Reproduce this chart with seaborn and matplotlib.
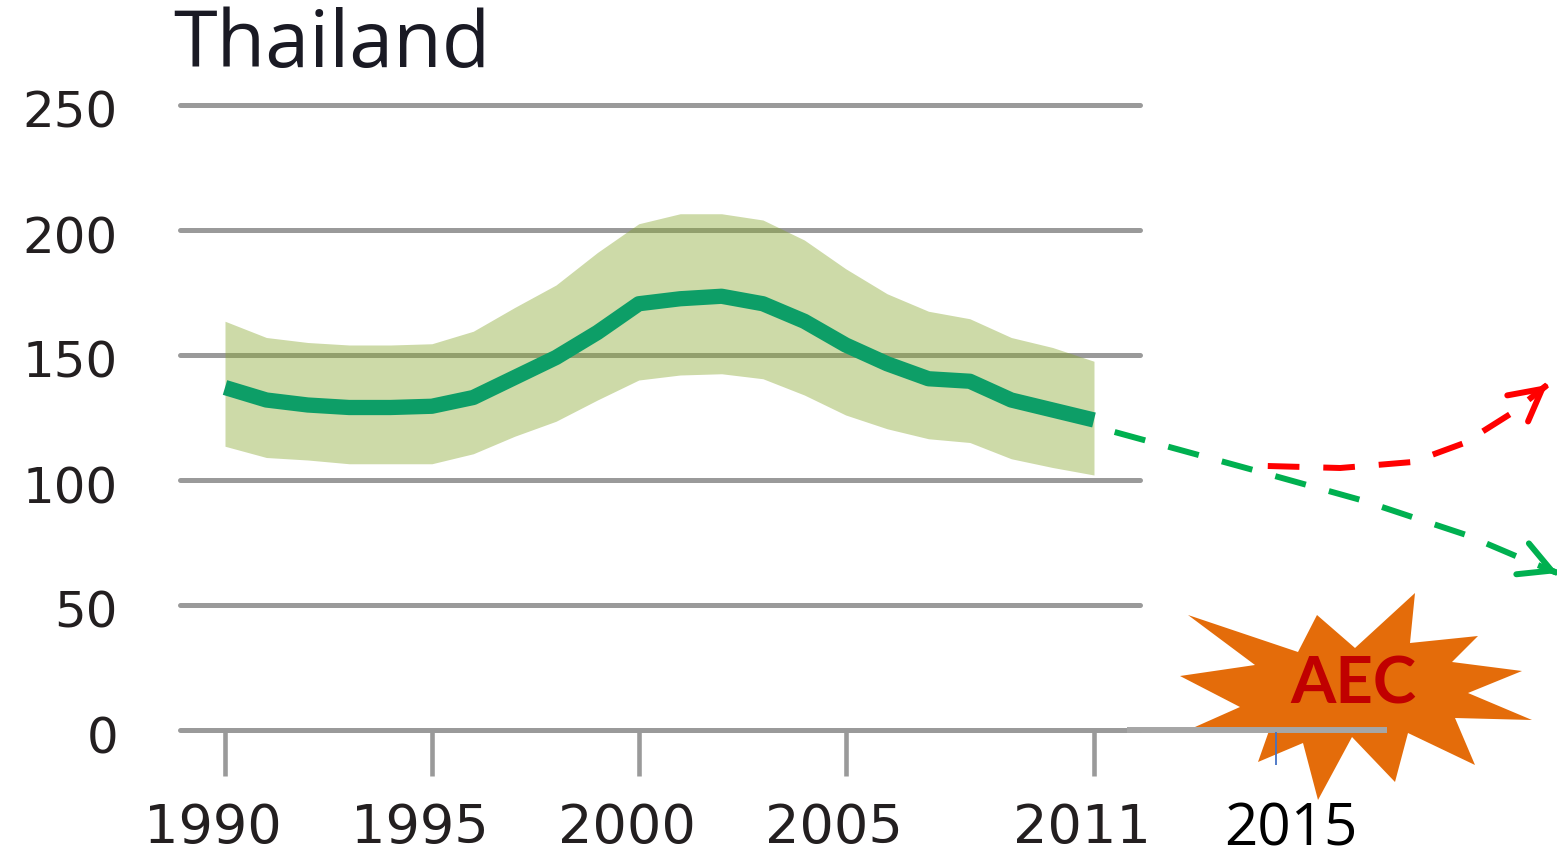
import matplotlib
matplotlib.use("Agg")
import matplotlib.pyplot as plt
import matplotlib.transforms as mtransforms
from matplotlib.patches import Polygon
import seaborn as sns

# data
years = list(range(1990, 2012))
central = [137, 132, 130, 129, 129, 129.5, 133, 141, 149, 159, 170.5,
           172.5, 173.5, 170.5, 163.5, 154, 146.5, 140.5, 139.5, 132, 128, 124]
upper = [163.5, 157, 155, 154, 154, 154.5, 159.5, 169, 178, 191, 202.5,
         206.5, 206.5, 204, 196, 184.5, 174.5, 167.5, 164.5, 157, 153, 147.5]
lower = [113.5, 109, 108, 106.5, 106.5, 106.5, 110.5, 117.5, 123.5, 132, 140,
         142, 142.5, 140.5, 134, 126, 120.5, 116.5, 115, 108.5, 105, 102]

# projections after 2011 (dashed arrows)
down_years = [2011.5, 2014.85, 2017.45, 2020.0, 2021.25, 2022.2]
down_vals = [119.2, 104.0, 92.0, 78.0, 69.2, 62.8]
up_years = [2015.2, 2016.95, 2018.7, 2019.95, 2021.1, 2021.95]
up_vals = [105.6, 104.8, 107.2, 114.8, 126.8, 138.0]

y_ticks = [0, 50, 100, 150, 200, 250]
x_ticks = [1990, 1995, 2000, 2005, 2011]
x_labels = ["1990", "1995", "2000", "2005", "2011"]
aec_year = 2015.4

sns.set_style("white")
plt.rcParams["font.family"] = ["Open Sans", "DejaVu Sans"]

W, H = 1557, 856
fig = plt.figure(figsize=(W / 100, H / 100), dpi=100)
ax = fig.add_axes([150 / W, 126 / H, 1407 / W, 640 / H])
px_per_year = 41.38
ax.set_xlim(1990 - 75 / px_per_year, 1990 + 1332 / px_per_year)
ax.set_ylim(0, 256)
for s in ax.spines.values():
    s.set_visible(False)

grid_col = "#9a9a9a"
gl = ax.hlines(y_ticks, 1990 - 45 / px_per_year, 1990 + 915 / px_per_year,
               color=grid_col, lw=3.6, zorder=1, clip_on=False)
gl.set_capstyle("round")

ax.fill_between(years, lower, upper, color="#88A730", alpha=0.42, lw=0, zorder=2)
sns.lineplot(x=years, y=central, color="#0D9E67", lw=11, ax=ax, zorder=3,
             solid_capstyle="butt")

# dashed projections
dash = (0, (5.3, 4))
for xs, ys, col in [(down_years, down_vals, "#00B050"), (up_years, up_vals, "#FF0000")]:
    ax.plot(xs, ys, color=col, lw=4.3, linestyle=dash, dash_capstyle="butt",
            zorder=4, clip_on=False)
    bx = xs[-1] + 0.05 * (xs[-2] - xs[-1])
    by = ys[-1] + 0.05 * (ys[-2] - ys[-1])
    ax.annotate("", xy=(xs[-1], ys[-1]), xytext=(bx, by), annotation_clip=False,
                arrowprops=dict(arrowstyle="->,head_length=0.75,head_width=0.4",
                                color=col, lw=4.3, shrinkA=0, shrinkB=0,
                                mutation_scale=30, capstyle="round",
                                joinstyle="round"), zorder=4)

# ticks
tick_font = ["DejaVu Sans"]
ax.set_yticks(y_ticks)
ax.set_yticklabels([str(v) for v in y_ticks], family=tick_font)
ax.set_xticks(x_ticks)
ax.set_xticklabels(x_labels, family=tick_font)
ax.tick_params(axis="y", length=0, pad=23, labelsize=36, labelcolor="#231F20")
ax.tick_params(axis="x", direction="out", length=33, width=3.3, color=grid_col,
               pad=19, labelsize=39, labelcolor="#231F20")
ax.xaxis.set_ticks_position("bottom")
off_y = mtransforms.ScaledTranslation(0, -4 / 100, fig.dpi_scale_trans)
for lab in ax.get_yticklabels():
    lab.set_transform(lab.get_transform() + off_y)
off_x = mtransforms.ScaledTranslation(-12 / 100, 0, fig.dpi_scale_trans)
for lab in ax.get_xticklabels():
    lab.set_transform(lab.get_transform() + off_x)

fig.text(173 / W, 1 - 67 / H, "Thailand", fontsize=57, color="#1a1a24",
         ha="left", va="baseline")

# AEC burst
star_px = [(1188, 615), (1298, 652), (1317, 615), (1355, 648), (1415, 593),
           (1410, 643), (1478, 636), (1452, 662), (1522, 671), (1468, 693),
           (1532, 720), (1455, 718), (1475, 765), (1408, 733), (1395, 782),
           (1352, 737), (1318, 800), (1303, 743), (1258, 762), (1270, 728),
           (1195, 727), (1240, 707), (1180, 676), (1255, 665)]
star = Polygon([(x / 100, (H - y) / 100) for x, y in star_px], closed=True,
               transform=fig.dpi_scale_trans, facecolor="#E46C0A", edgecolor="none",
               zorder=5, clip_on=False)
ax.add_patch(star)

ext = ax.hlines(0, 1990 + 902 / px_per_year, 1990 + 1162 / px_per_year,
                color="#A6A6A6", lw=4.3, zorder=6, clip_on=False)
ax.vlines(aec_year, -14, -0.8, color="#4472C4", lw=1.3, zorder=6, clip_on=False)
ax.text(1353 / W, 1 - 685 / H, "AEC", transform=fig.transFigure,
        family=["Lato", "DejaVu Sans"], fontweight="bold", fontsize=47,
        color="#C00000", ha="center", va="center", zorder=7)
fig.text(1291 / W, 1 - 845 / H, "2015", family=["Open Sans", "DejaVu Sans"],
         fontsize=42, color="black", ha="center", va="baseline")

fig.savefig("out.png", dpi=100)
